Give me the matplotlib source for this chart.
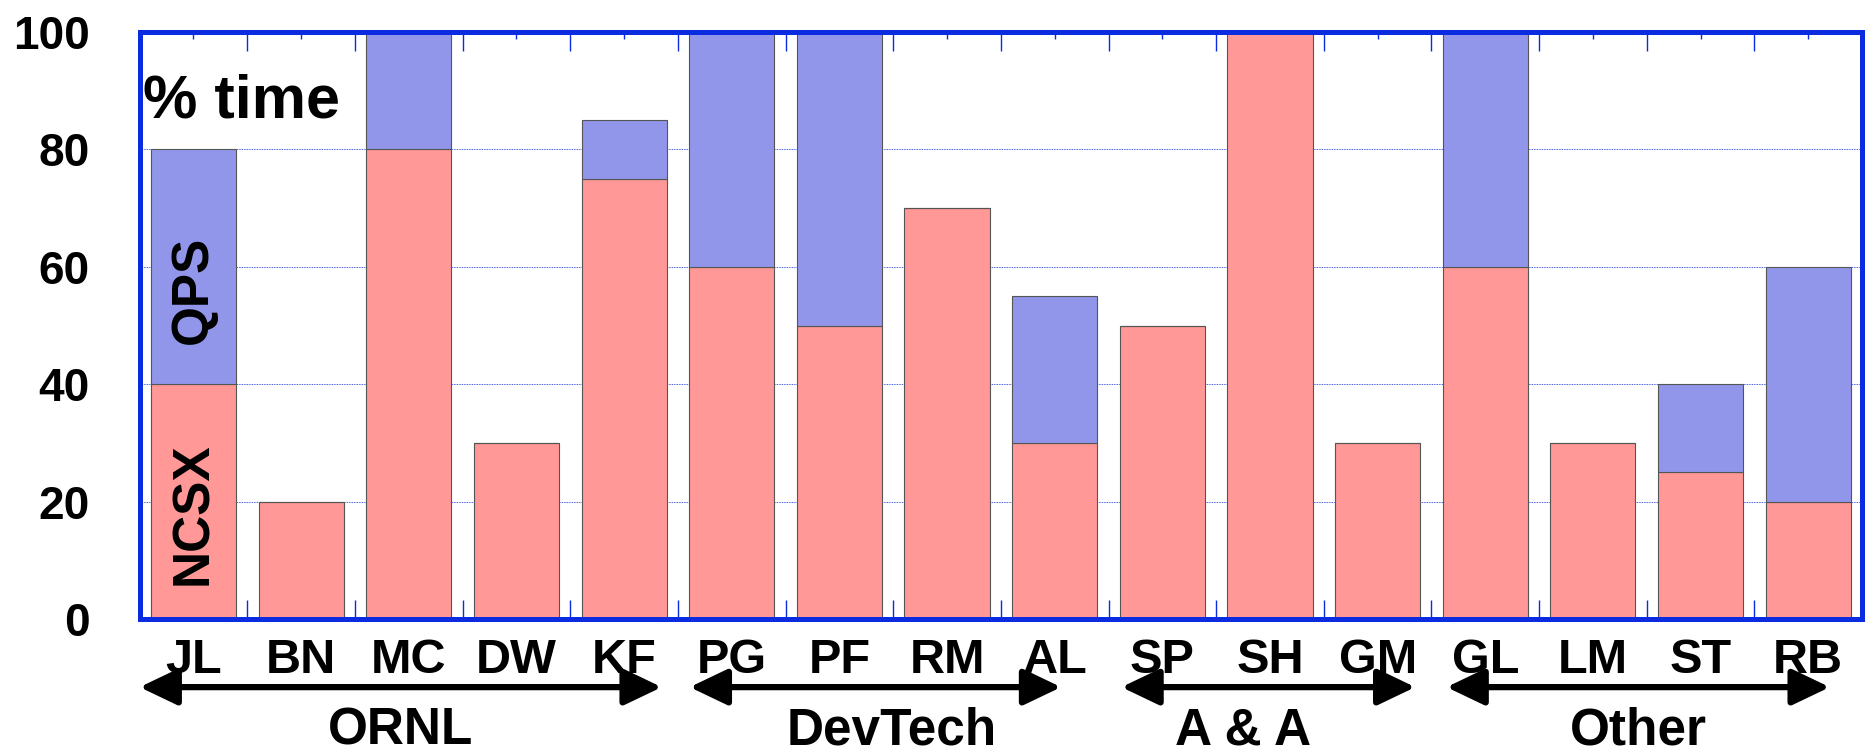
import matplotlib
matplotlib.use("Agg")
import matplotlib.pyplot as plt

plt.rcParams["font.family"] = ["Liberation Sans", "DejaVu Sans"]
plt.rcParams["font.weight"] = "bold"

people = ["JL", "BN", "MC", "DW", "KF", "PG", "PF", "RM", "AL",
          "SP", "SH", "GM", "GL", "LM", "ST", "RB"]
ncsx = [40, 20, 80, 30, 75, 60, 50, 70, 30, 50, 100, 30, 60, 30, 25, 20]
qps = [40, 0, 20, 0, 10, 40, 50, 0, 25, 0, 0, 0, 40, 0, 15, 40]

group_names = ["ORNL", "DevTech", "A & A", "Other"]
# arrow extents (in bar-index units) and label centres for each group
group_spans = [(-0.5, 4.35), (4.61, 8.06), (8.62, 11.35), (11.64, 15.2)]
group_label_x = [1.92, 6.49, 9.75, 13.42]

RED = "#ff9896"
BLUE = "#9196eb"
EDGE_BLUE = "#0a2be0"

fig = plt.figure(figsize=(18.69, 7.54), dpi=100)
ax = fig.add_axes([0.0747, 0.179, 0.9216, 0.7786])

x = list(range(len(people)))
ax.bar(x, ncsx, width=0.79, color=RED, edgecolor="#555555", linewidth=0.8, zorder=2)
ax.bar(x, qps, width=0.79, bottom=ncsx, color=BLUE, edgecolor="#555555",
       linewidth=0.8, zorder=2)

ax.set_xlim(-0.5, 15.5)
ax.set_ylim(0, 100)
ax.set_yticks([0, 20, 40, 60, 80, 100])
ax.tick_params(axis="y", labelsize=33, length=0, pad=36)
for lbl in ax.get_yticklabels():
    lbl.set_fontweight("bold")

# x ticks: short at bar centres, longer between bars, on top and bottom
ax.set_xticks(x)
ax.set_xticklabels(people, fontsize=35, fontweight="bold")
ax.set_xticks([i + 0.5 for i in x[:-1]], minor=True)
ax.tick_params(axis="x", which="major", direction="in", length=5, width=1,
               color=EDGE_BLUE, top=True, pad=14)
ax.tick_params(axis="x", which="minor", direction="in", length=14, width=1,
               color=EDGE_BLUE, top=True)

ax.yaxis.grid(True, color=EDGE_BLUE, linestyle=(0, (1, 1)), linewidth=0.6, zorder=0)
ax.set_axisbelow(True)
for s in ax.spines.values():
    s.set_color(EDGE_BLUE)
    s.set_linewidth(3.6)

ax.text(-0.47, 85.5, "% time", fontsize=44, fontweight="bold", ha="left", va="baseline")
ax.text(0, 56, "QPS", fontsize=37, fontweight="bold", rotation=90, ha="center", va="center")
ax.text(0, 18, "NCSX", fontsize=37, fontweight="bold", rotation=90, ha="center", va="center")

trans = ax.get_xaxis_transform()
for name, (x0, x1), lx in zip(group_names, group_spans, group_label_x):
    ax.annotate("", xy=(x0, -0.116), xytext=(x1, -0.116), xycoords=trans, textcoords=trans,
                arrowprops=dict(arrowstyle="<|-|>,head_length=2.3,head_width=1.1",
                                color="black", lw=4.5, shrinkA=0, shrinkB=0),
                annotation_clip=False)
    ax.text(lx, -0.213, name, transform=trans, fontsize=37, fontweight="bold",
            ha="center", va="baseline")

fig.savefig("out.png", dpi=100)
